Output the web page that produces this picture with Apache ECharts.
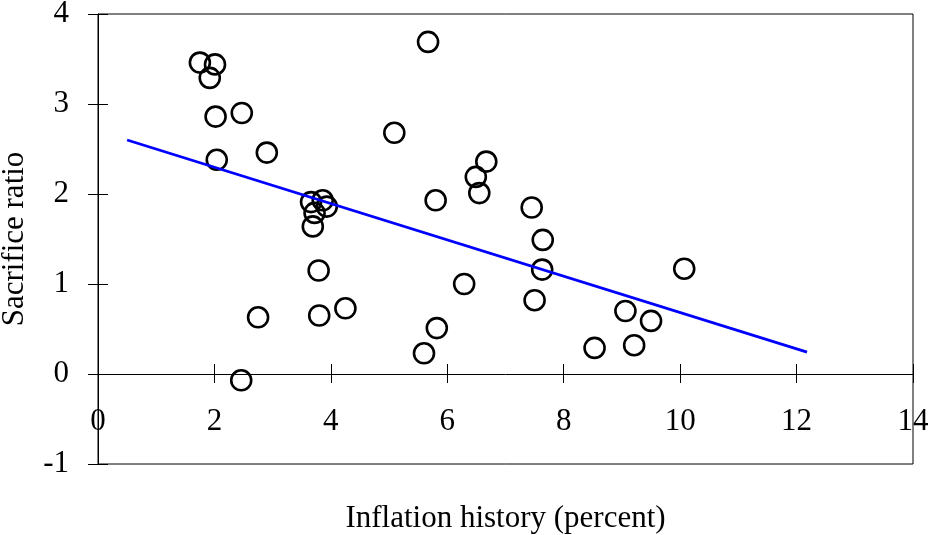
<!DOCTYPE html>
<html>
<head>
<meta charset="utf-8">
<script src="https://cdn.jsdelivr.net/npm/echarts@6/dist/echarts.min.js"></script>
<style>html,body{margin:0;padding:0;background:#fff;}#c{width:931px;height:535px;}</style>
</head>
<body>
<div id="c"></div>
<script>
// Data
var inflationHistory = [1.75, 2.01, 1.92, 2.02, 2.47, 2.04, 2.90, 2.75, 2.46,
  3.66, 3.86, 3.93, 3.72, 3.69, 3.79, 3.80, 4.25, 5.80, 6.29, 5.82, 5.60,
  5.67, 5.09, 6.67, 6.49, 6.55, 7.45, 7.64, 7.63, 7.50,
  10.07, 9.06, 9.50, 8.53, 9.21];
var sacrificeRatio = [3.46, 3.44, 3.29, 2.86, 2.90, 2.38, 2.46, 0.63, -0.07,
  1.91, 1.93, 1.86, 1.79, 1.64, 1.15, 0.65, 0.73, 1.93, 1.00, 0.51, 0.23,
  3.69, 2.68, 2.36, 2.19, 2.01, 1.85, 1.49, 1.16, 0.82,
  1.17, 0.70, 0.59, 0.29, 0.32];
var trendX = [0.5, 12.18];
var trendY = [2.6, 0.243];
var xTicks = [0, 2, 4, 6, 8, 10, 12, 14];
var yTicks = [-1, 0, 1, 2, 3, 4];

var points = inflationHistory.map(function (x, i) { return [x, sacrificeRatio[i]]; });
var trend = trendX.map(function (x, i) { return [x, trendY[i]]; });

var FONT = 'Liberation Serif';
var chart = echarts.init(document.getElementById('c'), null, {renderer: 'canvas'});
chart.setOption({
  animation: false,
  backgroundColor: '#fff',
  textStyle: {fontFamily: FONT},
  grid: {left: 98, right: 18, top: 14, bottom: 71, show: true, borderColor: '#000', borderWidth: 1,
    containLabel: false, outerBoundsMode: 'none'},
  xAxis: [{
    type: 'value', min: xTicks[0], max: xTicks[xTicks.length - 1], interval: 2,
    position: 'bottom',
    name: 'Inflation history (percent)', nameLocation: 'middle', nameGap: 39,
    nameTextStyle: {fontFamily: FONT, fontSize: 31, color: '#000'},
    axisLine: {show: true, onZero: true, lineStyle: {color: '#000', width: 1}},
    axisTick: {show: true, inside: false, length: 9, lineStyle: {color: '#000'}},
    axisLabel: {show: true, margin: -58, fontFamily: FONT, fontSize: 31, color: '#000'},
    splitLine: {show: false}
  }, {
    type: 'value', min: xTicks[0], max: xTicks[xTicks.length - 1], interval: 2,
    position: 'bottom',
    axisLine: {show: false, onZero: true, onZeroAxisIndex: 1},
    axisTick: {show: true, inside: true, length: 10, lineStyle: {color: '#000'}},
    axisLabel: {show: false},
    splitLine: {show: false}
  }],
  yAxis: [{
    type: 'value', min: yTicks[0], max: yTicks[yTicks.length - 1], interval: 1,
    position: 'left',
    name: 'Sacrifice ratio', nameLocation: 'middle', nameGap: 68,
    nameTextStyle: {fontFamily: FONT, fontSize: 31, color: '#000'},
    axisLine: {show: true, onZero: false, lineStyle: {color: '#000', width: 1}},
    axisTick: {show: true, inside: false, length: 10, lineStyle: {color: '#000'}},
    axisLabel: {show: true, margin: 29, fontFamily: FONT, fontSize: 31, color: '#000'},
    splitLine: {show: false}
  }, {
    type: 'value', min: yTicks[0], max: yTicks[yTicks.length - 1], interval: 1,
    position: 'left',
    axisLine: {show: false, onZero: false},
    axisTick: {show: true, inside: true, length: 10, lineStyle: {color: '#000'}},
    axisLabel: {show: false},
    splitLine: {show: false}
  }],
  series: [{
    type: 'scatter', xAxisIndex: 0, yAxisIndex: 0,
    data: points,
    symbol: 'circle', symbolSize: 20,
    itemStyle: {color: 'rgba(0,0,0,0)', borderColor: '#000', borderWidth: 2.6, opacity: 1},
    emphasis: {disabled: true}
  }, {
    type: 'line', xAxisIndex: 0, yAxisIndex: 0,
    data: trend, symbol: 'none',
    lineStyle: {color: '#0000ff', width: 2.8},
    emphasis: {disabled: true}
  }]
});
</script>
</body>
</html>
